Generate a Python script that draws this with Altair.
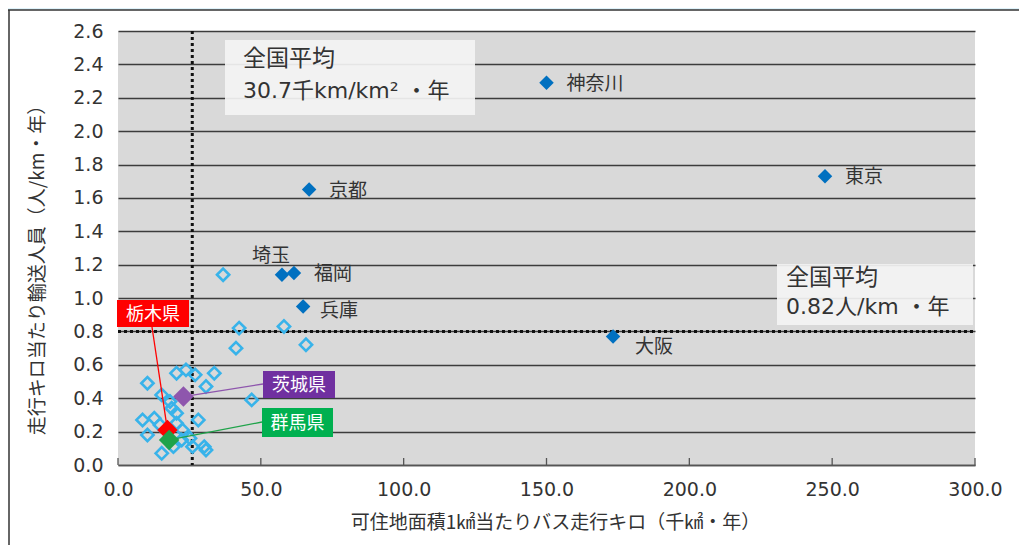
import altair as alt
import pandas as pd

# ---- data ----
named = ["神奈川", "東京", "京都", "埼玉", "福岡", "兵庫", "大阪"]
named_x = [150.0, 247.5, 66.9, 57.4, 61.6, 64.8, 173.3]
named_y = [2.29, 1.73, 1.65, 1.14, 1.15, 0.95, 0.77]

other_x = [36.8, 42.4, 58.1, 41.3, 65.8, 20.5, 23.8, 27.0, 33.7, 10.3,
           30.8, 46.8, 15.3, 18.2, 18.8, 20.5, 8.6, 12.7, 28.1, 14.7,
           20.5, 10.3, 22.6, 22.3, 19.4, 25.2, 26.1, 30.2, 30.8, 15.3]
other_y = [1.14, 0.82, 0.83, 0.70, 0.72, 0.55, 0.57, 0.54, 0.55, 0.49,
           0.47, 0.39, 0.42, 0.38, 0.34, 0.31, 0.27, 0.28, 0.27, 0.24,
           0.25, 0.18, 0.21, 0.15, 0.11, 0.16, 0.11, 0.11, 0.09, 0.07]

hl_names = ["栃木県", "茨城県", "群馬県"]
hl_x = [17.3, 22.9, 17.9]
hl_y = [0.21, 0.41, 0.15]
hl_colors = ["#ff0000", "#8e56ad", "#1fa34a"]
box_colors = ["#ff0000", "#7030a0", "#00b050"]

avg_x_line = [26.0]
avg_y_line = [0.80]
avg_x_text = ["全国平均", "30.7千km/km² ・年"]
avg_y_text = ["全国平均", "0.82人/km ・年"]

x_ticks = [0, 50, 100, 150, 200, 250, 300]
y_ticks = [0.0, 0.2, 0.4, 0.6, 0.8, 1.0, 1.2, 1.4, 1.6, 1.8, 2.0, 2.2, 2.4, 2.6]

x_title = "可住地面積1㎢当たりバス走行キロ（千㎢・年）"
y_title = "走行キロ当たり輸送人員（人/km・年）"

W, H = 857, 434
JP = "Noto Sans CJK JP"
NUM = "DejaVu Sans, Noto Sans CJK JP"

xscale = alt.Scale(domain=[0, 300], nice=False, zero=True)
yscale = alt.Scale(domain=[0, 2.6], nice=False, zero=True)
xaxis = alt.Axis(values=x_ticks, format=".1f", grid=False, domain=True,
                 domainColor="#555555", domainWidth=1.5, ticks=False,
                 labelFlush=False,
                 labelPadding=15, labelFont="DejaVu Sans", labelFontSize=19,
                 labelColor="#333333", title=x_title, titleFont=JP,
                 titleFontSize=19, titleFontWeight="normal", titleColor="#333333",
                 titleX=437, titleY=57, titleAlign="center", titleBaseline="middle")
yaxis = alt.Axis(values=y_ticks, format=".1f", grid=True, gridColor="#3c3c3c",
                 gridWidth=1.3, domain=False, ticks=False, labelPadding=15,
                 labelFlush=False,
                 labelFont="DejaVu Sans", labelFontSize=19, labelColor="#333333",
                 title=y_title, titleFont=JP, titleFontSize=19,
                 titleFontWeight="normal", titleColor="#333333",
                 titleX=-81, titleY=234, titleAlign="center", titleBaseline="middle")


def X(f="x"):
    return alt.X(f"{f}:Q", scale=xscale, axis=xaxis)


def Y(f="y"):
    return alt.Y(f"{f}:Q", scale=yscale, axis=yaxis)


one = pd.DataFrame({"k": [0]})

named_df = pd.DataFrame({"name": named, "x": named_x, "y": named_y})
other_df = pd.DataFrame({"x": other_x, "y": other_y})
hl_df = pd.DataFrame({"name": hl_names, "x": hl_x, "y": hl_y, "c": hl_colors})

layers = []

# frame around the figure
layers.append(alt.Chart(one).mark_rect(color="#dff3fb").encode(
    x=alt.value(-110), x2=alt.value(901), y=alt.value(-23), y2=alt.value(-21)))
layers.append(alt.Chart(one).mark_rule(color="#333333", strokeWidth=1.5).encode(
    x=alt.value(-110), x2=alt.value(901), y=alt.value(-21)))
layers.append(alt.Chart(one).mark_rule(color="#333333", strokeWidth=1.5).encode(
    x=alt.value(-109), y=alt.value(-21), y2=alt.value(H + 80)))

# x ticks pointing up into the plot
layers.append(alt.Chart(pd.DataFrame({"x": x_ticks})).mark_rule(
    color="#555555", strokeWidth=1.3).encode(
    x=X(), y=alt.value(H - 7), y2=alt.value(H)))

# average lines (dotted)
layers.append(alt.Chart(pd.DataFrame({"x": avg_x_line})).mark_rule(
    color="#111111", strokeWidth=3, strokeDash=[3, 3]).encode(
    x=X(), y=alt.value(0), y2=alt.value(H)))
layers.append(alt.Chart(pd.DataFrame({"y": avg_y_line})).mark_rule(
    color="#111111", strokeWidth=3, strokeDash=[3, 3]).encode(
    y=Y(), x=alt.value(0), x2=alt.value(W)))

# other prefectures (hollow diamonds)
layers.append(alt.Chart(other_df).mark_point(
    shape="diamond", filled=False, color="#38b3ea", strokeWidth=2.6,
    size=150, opacity=1).encode(x=X(), y=Y()))

# named prefectures
layers.append(alt.Chart(named_df).mark_point(
    shape="diamond", filled=True, color="#0070c0", size=210, opacity=1).encode(
    x=X(), y=Y()))

label_kw = dict(font=JP, fontSize=19, color="#333333", align="left", baseline="middle")
right_lab = named_df[named_df["name"].isin(["神奈川", "東京", "京都", "福岡"])]
layers.append(alt.Chart(right_lab).mark_text(dx=20, dy=1, **label_kw).encode(
    x=X(), y=Y(), text="name:N"))
layers.append(alt.Chart(named_df[named_df["name"] == "兵庫"]).mark_text(
    dx=17, dy=5, **label_kw).encode(x=X(), y=Y(), text="name:N"))
layers.append(alt.Chart(named_df[named_df["name"] == "大阪"]).mark_text(
    dx=22, dy=11, **label_kw).encode(x=X(), y=Y(), text="name:N"))
layers.append(alt.Chart(named_df[named_df["name"] == "埼玉"]).mark_text(
    dx=-11, dy=-19, font=JP, fontSize=19, color="#333333", align="center",
    baseline="middle").encode(x=X(), y=Y(), text="name:N"))

# callout leader lines
ends = [(34, 296), (145, 353), (144, 391)]
for i in range(3):
    layers.append(alt.Chart(hl_df.iloc[[i]]).mark_rule(
        color=hl_colors[i], strokeWidth=1.3).encode(
        x=X(), y=Y(), x2=alt.value(ends[i][0]), y2=alt.value(ends[i][1])))

# highlighted diamonds
for i in range(3):
    layers.append(alt.Chart(hl_df.iloc[[i]]).mark_point(
        shape="diamond", filled=True, color=hl_colors[i], size=420, opacity=1).encode(
        x=X(), y=Y()))

# callout boxes
boxes = [(-1, 71, 269, 296), (145, 217, 340, 367), (144, 215, 377, 406)]
for i in range(3):
    x0, x1, y0, y1 = boxes[i]
    layers.append(alt.Chart(one).mark_rect(color=box_colors[i]).encode(
        x=alt.value(x0), x2=alt.value(x1), y=alt.value(y0), y2=alt.value(y1)))
    layers.append(alt.Chart(one).mark_text(
        font=JP, fontSize=18, color="white", align="center", baseline="middle").encode(
        x=alt.value((x0 + x1) / 2), y=alt.value((y0 + y1) / 2 + 1),
        text=alt.value(hl_names[i])))

# average annotation boxes
for (x0, x1, y0, y1), txt, tx, ty in [((107, 357, 9, 84), avg_x_text, 125, (28, 60)),
                                      ((659, 855, 233, 294), avg_y_text, 668, (247, 276))]:
    layers.append(alt.Chart(one).mark_rect(color="#f4f4f4", opacity=0.92).encode(
        x=alt.value(x0), x2=alt.value(x1), y=alt.value(y0), y2=alt.value(y1)))
    for j in range(2):
        layers.append(alt.Chart(one).mark_text(
            font=NUM if j == 1 else JP, fontSize=22 if j == 1 else 23,
            color="#333333", align="left", baseline="middle").encode(
            x=alt.value(tx), y=alt.value(ty[j]), text=alt.value(txt[j])))

chart = alt.layer(*layers).properties(
    width=W, height=H,
    padding={"left": 110, "top": 23, "right": 44, "bottom": 80},
    autosize=alt.AutoSizeParams(type="none"),
    background="white",
).configure_view(fill="#d9d9d9", strokeWidth=0)

chart.save("out.html", embed_options={"renderer": "svg", "actions": False})
